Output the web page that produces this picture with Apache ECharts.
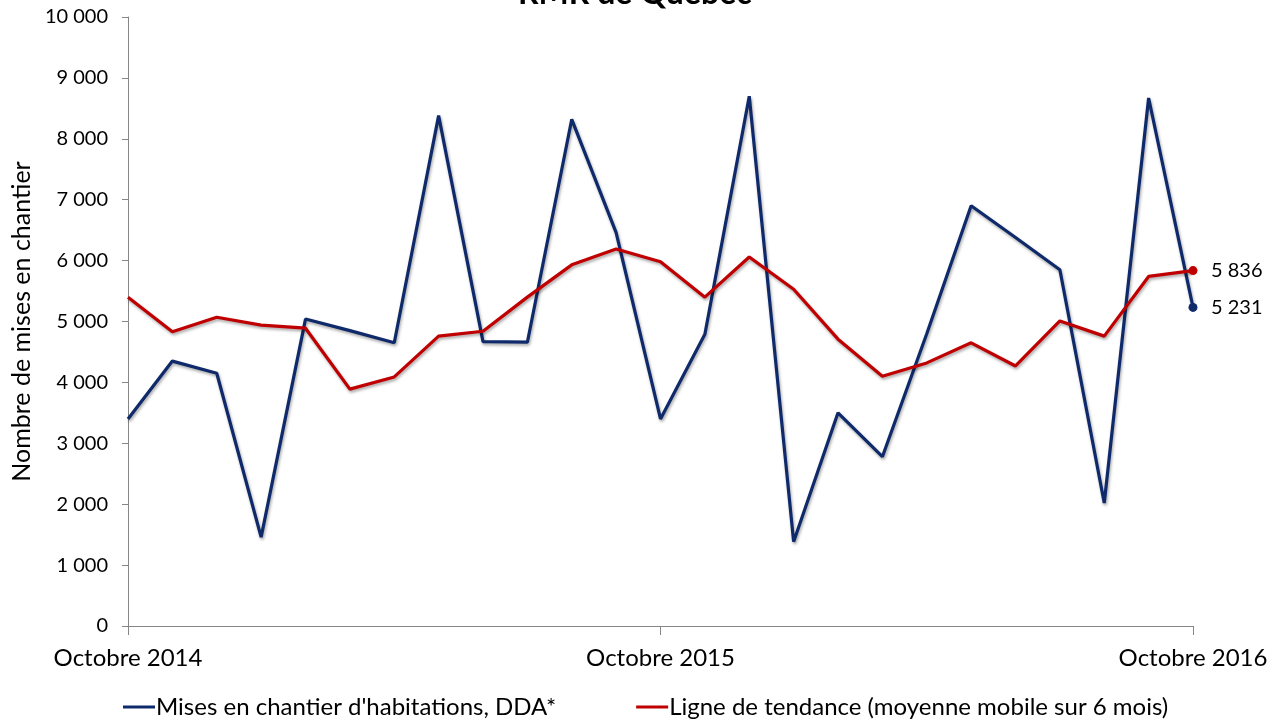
<!DOCTYPE html>
<html>
<head>
<meta charset="utf-8">
<script src="https://cdn.jsdelivr.net/npm/echarts@6/dist/echarts.min.js"></script>
<style>html,body{margin:0;padding:0;background:#fff}#c{width:1281px;height:724px}</style>
</head>
<body>
<div id="c"></div>
<script>
const months = ["Octobre 2014","Novembre 2014","Décembre 2014","Janvier 2015","Février 2015","Mars 2015","Avril 2015","Mai 2015","Juin 2015","Juillet 2015","Août 2015","Septembre 2015","Octobre 2015","Novembre 2015","Décembre 2015","Janvier 2016","Février 2016","Mars 2016","Avril 2016","Mai 2016","Juin 2016","Juillet 2016","Août 2016","Septembre 2016","Octobre 2016"];
const mises = [3400,4350,4150,1460,5040,4850,4650,8380,4670,4660,8320,6460,3400,4790,8700,1385,3500,2780,4800,6900,6380,5850,2020,8670,5231];
const tendance = [5400,4830,5070,4940,4890,3890,4090,4760,4840,5400,5930,6190,5980,5400,6060,5530,4710,4100,4320,4650,4270,5010,4760,5740,5836];
const seriesNames = ["Mises en chantier d'habitations, DDA*","Ligne de tendance (moyenne mobile sur 6 mois)"];
const titleText = "RMR de Québec";
const yTitle = "Nombre de mises en chantier";

const FONT = "Lato";
const fmt = v => String(Math.round(v)).replace(/\B(?=(\d{3})+(?!\d))/g, ' ');
const last = months.length - 1;

const chart = echarts.init(document.getElementById('c'));
function mkSeries(name, data, color){
  return {
    name, type:'line', data,
    symbol:'circle',
    symbolSize:(v,p)=> p.dataIndex===last ? 9 : 0,
    itemStyle:{color},
    lineStyle:{color, width:3.2, shadowColor:'rgba(0,0,0,0.35)', shadowBlur:3, shadowOffsetX:1, shadowOffsetY:2},
    endLabel:{show:true, formatter:p=>fmt(p.value), color:'#000', fontFamily:FONT, fontSize:20, distance:18},
    emphasis:{disabled:true},
    animation:false
  };
}
chart.setOption({
  backgroundColor:'#fff',
  title:{text:titleText, left:513, top:-27, textStyle:{fontFamily:FONT, fontSize:32, fontWeight:'bold', color:'#000'}},
  grid:{left:128, right:88, top:17, bottom:98, containLabel:false},
  legend:{
    bottom:0, left:118, itemWidth:32, itemHeight:3, itemGap:80, icon:'rect',
    textStyle:{fontFamily:FONT, fontSize:24, color:'#000', padding:[0,0,0,-4]},
    data:seriesNames
  },
  xAxis:{
    type:'category', data:months, boundaryGap:false,
    axisLine:{lineStyle:{color:'#868686', width:1}},
    axisTick:{show:true, interval:11, length:9, lineStyle:{color:'#868686'}},
    axisLabel:{interval:11, color:'#000', fontFamily:FONT, fontSize:24, margin:20},
    splitLine:{show:false}
  },
  yAxis:{
    type:'value', min:0, max:10000, interval:1000,
    name:yTitle, nameLocation:'middle', nameGap:94, nameRotate:90,
    nameTextStyle:{fontFamily:FONT, fontSize:25, color:'#000'},
    axisLine:{show:true, lineStyle:{color:'#868686'}},
    axisTick:{show:true, length:6, lineStyle:{color:'#868686'}},
    axisLabel:{formatter:fmt, color:'#000', fontFamily:FONT, fontSize:20, margin:20},
    splitLine:{show:false}
  },
  series:[mkSeries(seriesNames[0], mises, '#0f2a6b'), mkSeries(seriesNames[1], tendance, '#c00000')]
});
</script>
</body>
</html>
